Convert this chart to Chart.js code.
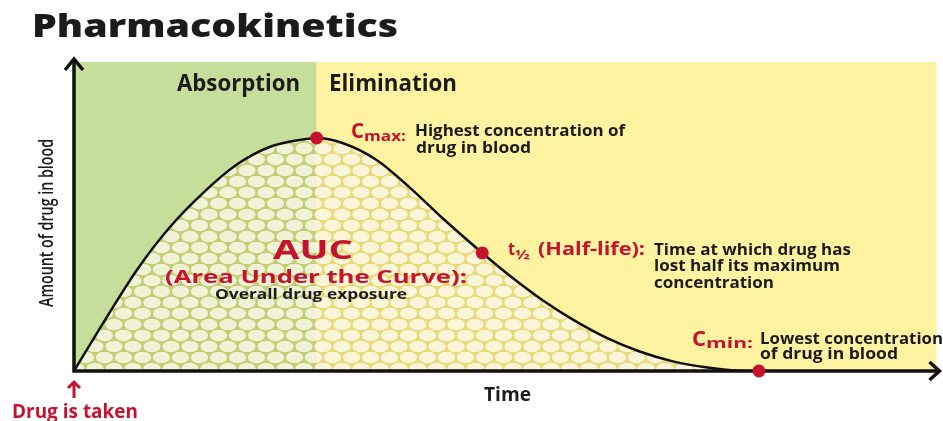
<!DOCTYPE html>
<html>
<head>
<meta charset="utf-8">
<title>Pharmacokinetics</title>
<script src="https://cdn.jsdelivr.net/npm/chart.js@4/dist/chart.umd.min.js"></script>
<style>
  html, body { margin: 0; padding: 0; background: #fff; }
  canvas { display: block; }
</style>
</head>
<body>
<canvas id="pkChart" width="943" height="421"></canvas>
<script>
// time (arbitrary hours) and amount of drug in blood (% of full scale)
const curveTime  = [0, 0.81, 1.75, 2.67, 3.58, 4.53, 5.44, 6.36, 6.75, 7.47, 8.42, 9.33, 10.25, 11.36, 12.11, 13.03, 13.86, 14.81, 15.72, 16.64, 17.58, 18.5, 19.06];
const curveLevel = [0, 15.5, 32.7, 46.6, 57.5, 66.8, 72.5, 74.9, 75.4, 73.8, 68.3, 59.5, 49.5, 38.2, 31.0, 23.0, 16.8, 10.8, 6.4, 3.2, 1.2, 0.1, 0];

// Cmax, t1/2, Cmin
const keyNames  = ['Cmax', 't1/2', 'Cmin'];
const keyTimes  = [6.75, 11.36, 19.06];
const keyLevels = [75.4, 38.2, 0];

// phases: absorption until Cmax, elimination after
const phaseNames = ['Absorption', 'Elimination'];
const phaseEdges = [0, 6.75, 24];

const RED = '#c5122f';
const INK = '#1b1b1b';

function makeDotPattern() {
  const tile = document.createElement('canvas');
  tile.width = 19;
  tile.height = 22;
  const c = tile.getContext('2d');
  c.fillStyle = 'rgba(190,170,45,0.34)';
  c.fillRect(0, 0, 19, 22);
  c.fillStyle = 'rgba(255,255,248,0.74)';
  [[9.5, 5.5], [0, 16.5], [19, 16.5]].forEach(([x, y]) => {
    c.beginPath();
    c.ellipse(x, y, 8.6, 5.8, 0, 0, Math.PI * 2);
    c.fill();
  });
  return c.createPattern(tile, 'repeat');
}

// draws text squeezed or stretched to a given width
function fitText(ctx, text, x, y, size, width, color, weight = 700) {
  ctx.font = `${weight} ${size}px "Open Sans"`;
  const w = ctx.measureText(text).width;
  ctx.save();
  ctx.translate(x, y);
  ctx.scale(width / w, 1);
  ctx.fillStyle = color;
  ctx.textBaseline = 'alphabetic';
  ctx.textAlign = 'left';
  ctx.fillText(text, 0, 0);
  ctx.restore();
}

const backdrop = {
  id: 'backdrop',
  beforeDatasetsDraw(chart) {
    const { ctx, chartArea, scales: { x, y } } = chart;
    const colors = ['#c5df9b', '#fdf3a0'];
    ctx.save();
    for (let i = 0; i < phaseNames.length; i++) {
      const l = x.getPixelForValue(phaseEdges[i]);
      const r = x.getPixelForValue(phaseEdges[i + 1]);
      ctx.fillStyle = colors[i];
      ctx.fillRect(l, chartArea.top, r - l, y.getPixelForValue(0) - chartArea.top);
    }
    ctx.restore();
  },
  beforeDatasetDraw(chart, args) {
    if (args.index !== 0) return;
    const { ctx, chartArea, scales: { x, y } } = chart;
    const x0 = x.getPixelForValue(0);
    const y0 = y.getPixelForValue(0);
    ctx.save();
    ctx.strokeStyle = '#111';
    ctx.lineWidth = 3.5;
    ctx.lineCap = 'butt';
    ctx.beginPath();
    ctx.moveTo(x0, y0 + 1.5);
    ctx.lineTo(x0, chartArea.top - 3);
    ctx.moveTo(x0 - 1.5, y0);
    ctx.lineTo(chartArea.right + 3, y0);
    ctx.stroke();
    ctx.lineJoin = 'miter';
    ctx.beginPath();
    ctx.moveTo(x0 - 9, chartArea.top + 8);
    ctx.lineTo(x0, chartArea.top - 3);
    ctx.lineTo(x0 + 9, chartArea.top + 8);
    ctx.moveTo(chartArea.right - 7, y0 - 9);
    ctx.lineTo(chartArea.right + 3, y0);
    ctx.lineTo(chartArea.right - 7, y0 + 9);
    ctx.stroke();
    ctx.restore();
  },
  afterDraw(chart) {
    const { ctx, scales: { x } } = chart;
    const x0 = x.getPixelForValue(0);
    fitText(ctx, 'Pharmacokinetics', 32, 37, 32, 366, INK, 800);
    fitText(ctx, phaseNames[0], 177, 91, 23, 123, INK);
    fitText(ctx, phaseNames[1], 329, 91, 23, 128, INK);

    // y axis title
    ctx.save();
    ctx.translate(53, 223);
    ctx.rotate(-Math.PI / 2);
    fitText(ctx, 'Amount of drug in blood', -84, 0, 19, 168, INK, 600);
    ctx.restore();

    fitText(ctx, 'Time', 484, 401, 19, 47, INK);
    fitText(ctx, 'Drug is taken', 12, 418, 19, 126, RED);
    ctx.save();
    ctx.strokeStyle = RED;
    ctx.lineWidth = 3;
    ctx.beginPath();
    ctx.moveTo(x0, 398);
    ctx.lineTo(x0, 382);
    ctx.moveTo(x0 - 6, 388);
    ctx.lineTo(x0, 382);
    ctx.lineTo(x0 + 6, 388);
    ctx.stroke();
    ctx.restore();

    // Cmax
    fitText(ctx, 'C', 351, 138, 22, 13, RED);
    fitText(ctx, 'max:', 364, 141, 15, 42, RED);
    fitText(ctx, 'Highest concentration of', 415, 136, 16, 210, INK);
    fitText(ctx, 'drug in blood', 416, 153, 16, 115, INK);

    // half-life
    fitText(ctx, 't', 508, 255, 17, 7, RED);
    fitText(ctx, '\u00bd', 515, 259, 13, 15, RED);
    fitText(ctx, '(Half-life):', 538, 255, 17, 107, RED);
    fitText(ctx, 'Time at which drug has', 654, 255, 16, 197, INK);
    fitText(ctx, 'lost half its maximum', 654, 271, 16, 186, INK);
    fitText(ctx, 'concentration', 654, 288, 16, 120, INK);

    // Cmin
    fitText(ctx, 'C', 692, 346, 22, 14, RED);
    fitText(ctx, 'min:', 706, 348, 15, 47, RED);
    fitText(ctx, 'Lowest concentration', 760, 344, 16, 183, INK);
    fitText(ctx, 'of drug in blood', 760, 359, 16, 138, INK);

    // AUC
    fitText(ctx, 'AUC', 273, 259, 26, 80, RED);
    fitText(ctx, '(Area Under the Curve):', 165, 283, 18, 302, RED);
    fitText(ctx, 'Overall drug exposure', 215, 299, 14, 192, INK);
  }
};

const ctx = document.getElementById('pkChart').getContext('2d');

new Chart(ctx, {
  type: 'line',
  data: {
    datasets: [
      {
        label: 'Key points',
        data: keyTimes.map((t, i) => ({ x: t, y: keyLevels[i], name: keyNames[i] })),
        showLine: false,
        pointRadius: 6.5,
        pointBackgroundColor: RED,
        pointBorderWidth: 0,
        clip: false,
        order: 0
      },
      {
        label: 'Amount of drug in blood',
        data: curveTime.map((t, i) => ({ x: t, y: curveLevel[i] })),
        borderColor: '#111',
        borderWidth: 2.5,
        pointRadius: 0,
        fill: 'origin',
        backgroundColor: makeDotPattern(),
        cubicInterpolationMode: 'monotone',
        order: 1
      }
    ]
  },
  options: {
    responsive: false,
    animation: false,
    devicePixelRatio: 1,
    layout: { padding: { left: 74, right: 5, top: 62, bottom: 50 } },
    scales: {
      x: { type: 'linear', min: 0, max: 24, display: false },
      y: { min: 0, max: 100, display: false }
    },
    plugins: {
      legend: { display: false },
      tooltip: { enabled: false }
    }
  },
  plugins: [backdrop]
});
</script>
</body>
</html>
